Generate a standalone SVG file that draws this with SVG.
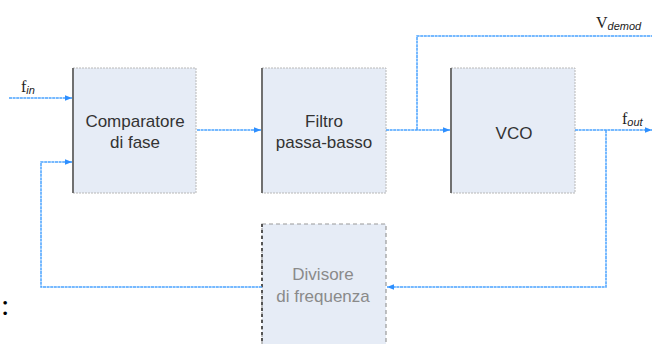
<svg xmlns="http://www.w3.org/2000/svg" width="652" height="344" viewBox="0 0 652 344">
<style>
.box{fill:#e6ecf6;stroke:#b8b8b8;stroke-width:1;stroke-dasharray:2 1}
.lft{stroke:#707070;stroke-width:2}
.t{font-family:"Liberation Sans",Arial,sans-serif;font-size:17px;fill:#333;text-anchor:middle}
.tg{fill:#8a8a8a}
.w{fill:none;stroke:#4aa3ff;stroke-width:1.5;stroke-dasharray:3 0.6}
.lab{font-family:"Liberation Serif","Times New Roman",serif;font-size:16px;fill:#222}
.sub{font-family:"Liberation Sans",Arial,sans-serif;font-size:11px;font-style:italic;fill:#222}
</style>
<defs>
<marker id="ah" viewBox="0 0 10 10" refX="10" refY="5" markerWidth="7" markerHeight="7" orient="auto" markerUnits="userSpaceOnUse">
<path d="M0,1 L10,5 L0,9 Z" fill="#2e8fff"/>
</marker>
</defs>
<g id="comparatore">
<rect class="box" x="73" y="68" width="123" height="125"/>
<line class="lft" x1="73" y1="68" x2="73" y2="193"/>
<text class="t" x="135" y="127">Comparatore</text>
<text class="t" x="135" y="148">di fase</text>
</g>
<g id="filtro">
<rect class="box" x="262" y="68" width="124" height="125"/>
<line class="lft" x1="262" y1="68" x2="262" y2="193"/>
<text class="t" x="324" y="127">Filtro</text>
<text class="t" x="324" y="148">passa-basso</text>
</g>
<g id="vco">
<rect class="box" x="451" y="68" width="124" height="125"/>
<line class="lft" x1="451" y1="68" x2="451" y2="193"/>
<text class="t" x="514" y="139">VCO</text>
</g>
<g id="divisore">
<rect x="262" y="224" width="124" height="125" fill="#e6ecf6" stroke="#999" stroke-width="1.2" stroke-dasharray="4 3"/>
<line x1="262" y1="224" x2="262" y2="344" stroke="#555" stroke-width="2" stroke-dasharray="3 3"/>
<text class="t tg" x="323" y="280">Divisore</text>
<text class="t tg" x="323" y="302">di frequenza</text>
</g>
<g id="connectors">
<path class="w" d="M9,98 H72" marker-end="url(#ah)"/>
<path class="w" d="M197,130 H261" marker-end="url(#ah)"/>
<path class="w" d="M386,130 H450" marker-end="url(#ah)"/>
<path class="w" d="M417,130 V36 H652"/>
<path class="w" d="M575,130 H652" marker-end="url(#ah)"/>
<path class="w" d="M606,130 V287 H387" marker-end="url(#ah)"/>
<path class="w" d="M262,287 H41 V162 H72" marker-end="url(#ah)"/>
</g>
<g id="labels">
<text class="lab" x="21" y="92">f<tspan class="sub" dy="2">in</tspan></text>
<text class="lab" x="596" y="28">V<tspan class="sub" dy="2">demod</tspan></text>
<text class="lab" x="622" y="124">f<tspan class="sub" dy="2">out</tspan></text>
<text x="1" y="315" font-family="Liberation Serif,serif" font-size="30" fill="#000">:</text>
</g>
</svg>
